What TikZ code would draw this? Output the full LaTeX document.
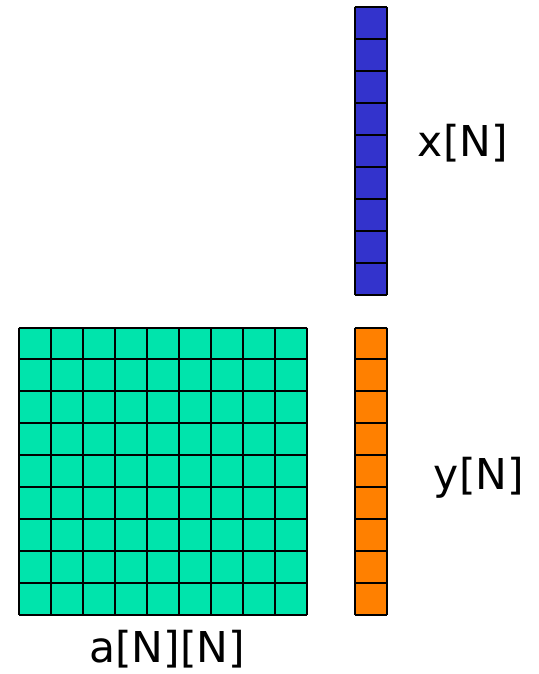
\documentclass[tikz,border=0pt]{standalone}
\usepackage{fontspec}
\setmainfont{DejaVu Sans}
\definecolor{cellgreen}{RGB}{0,228,172}
\definecolor{cellblue}{RGB}{51,51,204}
\definecolor{cellorange}{RGB}{255,128,0}
\tikzset{
  gridline/.style={line width=2pt, draw=black},
  lbl/.style={font=\fontsize{42.5}{50}\selectfont, inner sep=0pt, text=black}
}
\begin{document}
\begin{tikzpicture}[x=1pt,y=-1pt]
\useasboundingbox (0,0) rectangle (538,674);
% matrix a
\fill[cellgreen] (18.5,327.5) rectangle (306.5,614.5);
\foreach \i in {0,...,9} {
  \draw[gridline] (18.5+32*\i,327.5) -- (18.5+32*\i,614.5);
  \draw[gridline] (18.5,327.5+31.89*\i) -- (306.5,327.5+31.89*\i);
}
% vector x
\fill[cellblue] (354.5,7.5) rectangle (386.5,294.5);
\draw[gridline] (354.5,7.5) -- (354.5,294.5);
\draw[gridline] (386.5,7.5) -- (386.5,294.5);
\foreach \i in {0,...,9} {
  \draw[gridline] (354.5,7.5+31.89*\i) -- (386.5,7.5+31.89*\i);
}
% vector y
\fill[cellorange] (354.5,327.5) rectangle (386.5,614.5);
\draw[gridline] (354.5,327.5) -- (354.5,614.5);
\draw[gridline] (386.5,327.5) -- (386.5,614.5);
\foreach \i in {0,...,9} {
  \draw[gridline] (354.5,327.5+31.89*\i) -- (386.5,327.5+31.89*\i);
}
\node[lbl] (xlabel) at (463,143) {x[N]};
\node[lbl] (ylabel) at (479,478) {y[N]};
\node[lbl] (alabel) at (167,649) {a[N][N]};
\end{tikzpicture}
\end{document}
